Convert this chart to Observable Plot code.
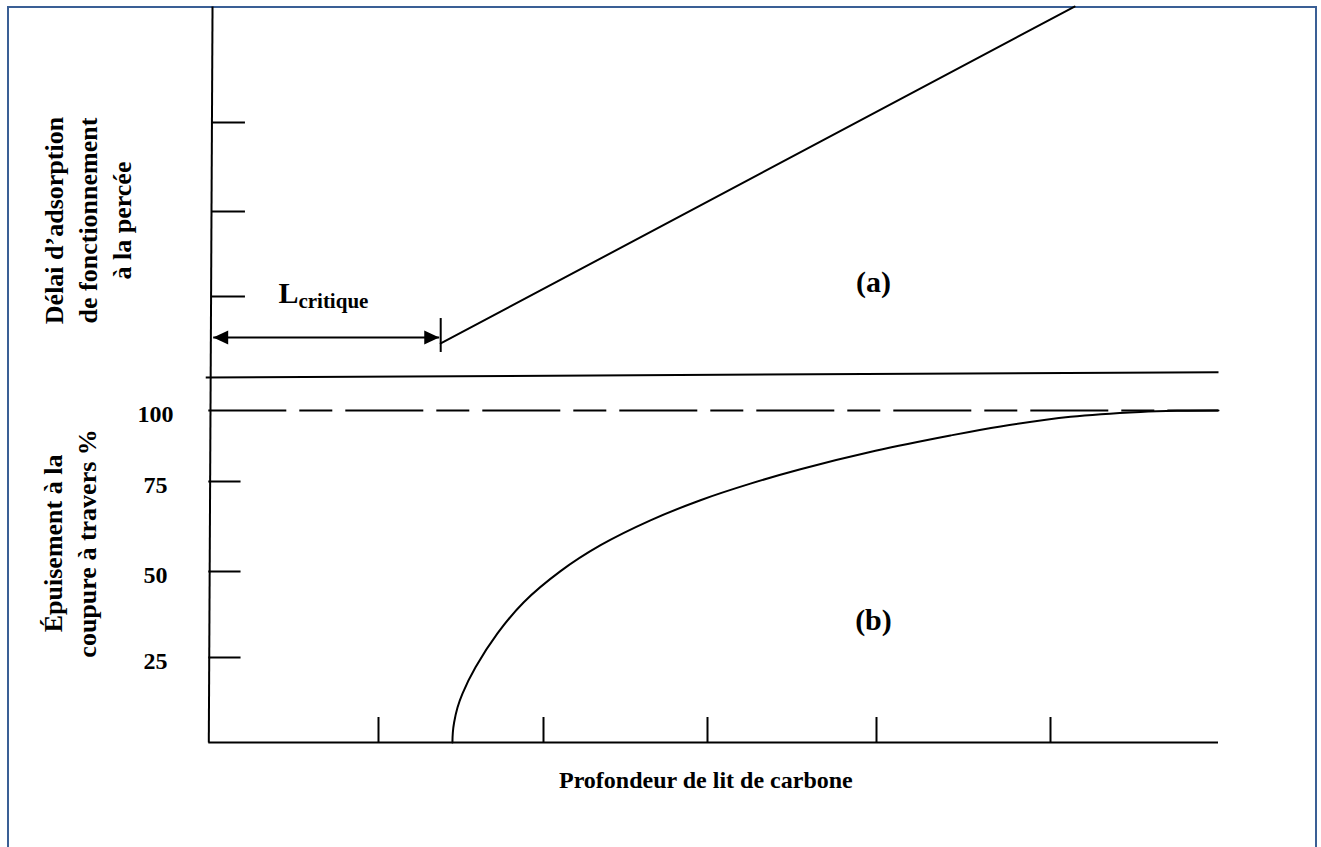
<!DOCTYPE html>
<html>
<head>
<meta charset="utf-8">
<script src="https://cdn.jsdelivr.net/npm/d3@7"></script>
<script src="https://cdn.jsdelivr.net/npm/@observablehq/plot@0.6"></script>
<style>
  html, body { margin: 0; padding: 0; background: #fff; }
  #figure { position: relative; width: 1321px; height: 847px; overflow: hidden; background: #fff; }
  #figure svg { position: absolute; left: 0; top: 0; }
  #frame { position: absolute; left: 6.5px; top: 5.5px; width: 1310px; height: 900px;
           border: 2.5px solid #3a5f95; box-sizing: border-box; }
</style>
</head>
<body>
<div id="figure"><div id="frame"></div></div>
<script>
// ---- Bed depth (shared horizontal axis) ----
const depthDomain = [0, 1, 2, 3, 4, 5, 6];
const depthTicks = [1, 2, 3, 4, 5];

// ---- (a) service time to breakthrough vs. bed depth ----
const timeDomain = [0, 1, 2, 3];
const timeTicks = [1, 2, 3];
const criticalDepth = 1.377;
const serviceDepth = [1.377, 5.143];
const serviceTime = [0.42, 4.303];

// ---- (b) carbon exhaustion at breakthrough (%) ----
const percentDomain = [0, 25, 50, 75, 100];
const percentTicks = [25, 50, 75];
const percentLabelValues = [25, 50, 75, 100];
const percentLabels = ["25", "50", "75", "100"];
const curveDepth = [1.448, 1.4505, 1.4582, 1.4788, 1.509, 1.588, 1.721, 1.879, 2.104, 2.348,
                    2.652, 2.957, 3.254, 3.550, 3.994, 4.425, 4.713, 5.119, 5.536, 5.774, 6];
const curvePercent = [0, 2.94, 5.88, 10.29, 14.4, 22.1, 32.0, 41.0, 50.1, 57.3,
                      64.2, 69.8, 74.4, 79.3, 85.8, 91.2, 94.4, 97.8, 99.5, 99.9, 100];

// ---- texts ----
const topTitle = "Délai d’adsorption\nde fonctionnement\nà la percée";
const bottomTitle = "Épuisement à la\ncoupure à travers %";
const depthTitle = "Profondeur de lit de carbone";

// ---- layout (pixel ranges of the piecewise scales) ----
const W = 1321, H = 847;
const depthRange = [208.3, 378, 543, 707, 876, 1050, 1218];
const timeRange = [377, 296, 211, 122];
const percentRange = [742, 657, 571, 481, 410];

const serif = "'Liberation Serif', 'Times New Roman', Times, serif";
const ink = "#000";
const lw = 2;

// filled arrowheads (tip at the anchor point)
const headLeft = {draw(ctx) { ctx.moveTo(0, 0); ctx.lineTo(15, -7); ctx.lineTo(15, 7); ctx.closePath(); }};
const headRight = {draw(ctx) { ctx.moveTo(0, 0); ctx.lineTo(-15, -7); ctx.lineTo(-15, 7); ctx.closePath(); }};

const service = serviceDepth.map((d, i) => ({depth: d, time: serviceTime[i]}));
const exhaustion = curveDepth.map((d, i) => ({depth: d, pct: curvePercent[i]}));
const pctLabels = percentLabelValues.map((v, i) => ({v, label: percentLabels[i]}));

// span of the critical-depth arrow
const arrowFrom = 0.026, arrowTo = 1.368, arrowAt = 0.494;

const common = {
  width: W, height: H, margin: 0,
  style: {background: "transparent", overflow: "visible"},
  x: {type: "linear", domain: depthDomain, range: depthRange, axis: null}
};

// ---------- panel (a) ----------
const topPanel = Plot.plot({
  ...common,
  y: {type: "linear", domain: timeDomain, range: timeRange, axis: null},
  marks: [
    // vertical axis (upper part) and the panel's base line
    Plot.link([{x1: 0.011, y1: 0, x2: 0.022, y2: 4.303}],
      {x1: "x1", y1: "y1", x2: "x2", y2: "y2", stroke: ink, strokeWidth: lw}),
    Plot.link([{x1: -0.018, y1: 0, x2: 6, y2: 0.065}],
      {x1: "x1", y1: "y1", x2: "x2", y2: "y2", stroke: ink, strokeWidth: lw}),
    Plot.ruleY(timeTicks, {y: d => d, x1: 0.02, x2: 0.216, stroke: ink, strokeWidth: lw}),
    // breakthrough line
    Plot.line(service, {x: "depth", y: "time", stroke: ink, strokeWidth: lw}),
    // critical depth marker and double arrow
    Plot.ruleX([criticalDepth], {x: d => d, y1: 0.309, y2: 0.728, stroke: ink, strokeWidth: lw}),
    Plot.link([{a: arrowFrom, b: arrowTo, y: arrowAt}],
      {x1: "a", x2: "b", y1: "y", y2: "y", stroke: ink, strokeWidth: lw}),
    Plot.dot([{x: arrowFrom, y: arrowAt}], {x: "x", y: "y", symbol: headLeft, fill: ink, stroke: null}),
    Plot.dot([{x: arrowTo, y: arrowAt}], {x: "x", y: "y", symbol: headRight, fill: ink, stroke: null}),
    Plot.text(["L"], {x: 0.41, y: 0.914, text: d => d, textAnchor: "start", lineAnchor: "bottom",
      fontFamily: serif, fontWeight: "bold", fontSize: 30, fill: ink}),
    Plot.text(["critique"], {x: 0.528, y: 0.864, text: d => d, textAnchor: "start", lineAnchor: "bottom",
      fontFamily: serif, fontWeight: "bold", fontSize: 21, fill: ink}),
    Plot.text(["(a)"], {x: 3.982, y: 1.165, text: d => d, lineAnchor: "middle",
      fontFamily: serif, fontWeight: "bold", fontSize: 30, fill: ink}),
    Plot.text([topTitle], {x: -0.722, y: 1.894, text: d => d, rotate: -90, lineAnchor: "middle",
      lineHeight: 1.3, fontFamily: serif, fontWeight: "bold", fontSize: 26, fill: ink})
  ]
});

// ---------- panel (b) ----------
const bottomPanel = Plot.plot({
  ...common,
  y: {type: "linear", domain: percentDomain, range: percentRange, axis: null},
  marks: [
    Plot.link([{x1: 0, y1: 0, x2: 0.011, y2: 111.6}],
      {x1: "x1", y1: "y1", x2: "x2", y2: "y2", stroke: ink, strokeWidth: lw}),
    Plot.ruleY([0], {x1: 0, x2: 6, stroke: ink, strokeWidth: lw}),
    Plot.ruleX(depthTicks, {x: d => d, y1: 0, y2: 7.35, stroke: ink, strokeWidth: lw}),
    Plot.ruleY(percentTicks, {y: d => d, x1: 0, x2: 0.19, stroke: ink, strokeWidth: lw}),
    Plot.ruleY([100], {y: d => d, x1: 0, x2: 6, stroke: ink, strokeWidth: lw, strokeDasharray: "78,13,33,13"}),
    Plot.line(exhaustion, {x: "depth", y: "pct", curve: "catmull-rom", stroke: ink, strokeWidth: lw}),
    Plot.text(pctLabels, {x: -0.314, y: "v", text: "label", dy: 4, lineAnchor: "middle",
      fontFamily: serif, fontWeight: "bold", fontSize: 24, fill: ink}),
    Plot.text(["(b)"], {x: 3.982, y: 35.8, text: d => d, lineAnchor: "middle",
      fontFamily: serif, fontWeight: "bold", fontSize: 30, fill: ink}),
    Plot.text([bottomTitle], {x: -0.828, y: 57.8, text: d => d, rotate: -90, lineAnchor: "middle",
      lineHeight: 1.32, fontFamily: serif, fontWeight: "bold", fontSize: 26, fill: ink}),
    Plot.text([depthTitle], {x: 2.99, y: -11.2, text: d => d, lineAnchor: "middle",
      fontFamily: serif, fontWeight: "bold", fontSize: 24, fill: ink})
  ]
});

const fig = document.getElementById("figure");
fig.appendChild(topPanel);
fig.appendChild(bottomPanel);
</script>
</body>
</html>
